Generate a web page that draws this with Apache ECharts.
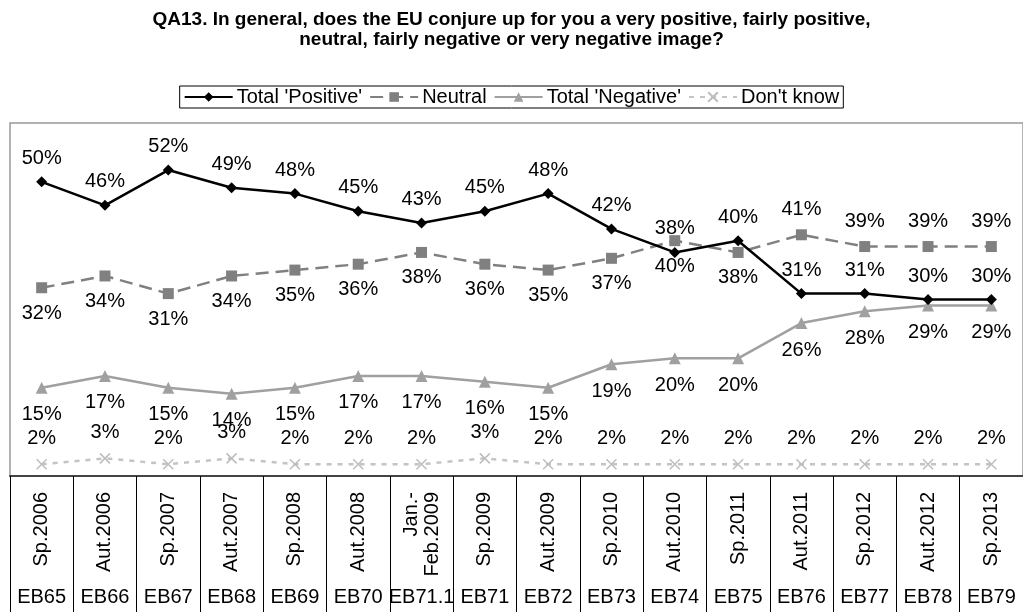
<!DOCTYPE html>
<html>
<head>
<meta charset="utf-8">
<script src="https://cdn.jsdelivr.net/npm/echarts@6/dist/echarts.min.js"></script>
<style>
html,body{margin:0;padding:0;background:#fff;}
#chart{width:1023px;height:612px;}
</style>
</head>
<body>
<div id="chart"></div>
<script>
const titleText = "QA13. In general, does the EU conjure up for you a very positive, fairly positive,\nneutral, fairly negative or very negative image?";
const periods = ["Sp.2006","Aut.2006","Sp.2007","Aut.2007","Sp.2008","Aut.2008","Jan.-\nFeb.2009","Sp.2009","Aut.2009","Sp.2010","Aut.2010","Sp.2011","Aut.2011","Sp.2012","Aut.2012","Sp.2013"];
const waves = ["EB65","EB66","EB67","EB68","EB69","EB70","EB71.1","EB71","EB72","EB73","EB74","EB75","EB76","EB77","EB78","EB79"];
const seriesNames = ["Total 'Positive'","Neutral","Total 'Negative'","Don't know"];
const positive = [50,46,52,49,48,45,43,45,48,42,38,40,31,31,30,30];
const neutral  = [32,34,31,34,35,36,38,36,35,37,40,38,41,39,39,39];
const negative = [15,17,15,14,15,17,17,16,15,19,20,20,26,28,29,29];
const dontKnow = [2,3,2,3,2,2,2,3,2,2,2,2,2,2,2,2];
// label side for Neutral series: points after index 11 carry labels above
const neutralLabelTop = [false,false,false,false,false,false,false,false,false,false,false,false,true,true,true,true];

const FONT = "Liberation Sans, Arial, sans-serif";
const chart = echarts.init(document.getElementById('chart'));

function pctLabel(p){ return p.value + '%'; }
const baseLabel = {show:true, formatter:pctLabel, color:'#000', fontSize:20, fontFamily:FONT};

const option = {
  animation:false,
  backgroundColor:'#fff',
  title:{
    text:titleText, left:'center', top:5,
    textStyle:{fontSize:19, fontWeight:'bold', color:'#000', fontFamily:FONT, lineHeight:20}
  },
  legend:{
    top:86, left:'center',
    data:seriesNames,
    borderColor:'#000', borderWidth:1, padding:[1,4],
    itemWidth:48, itemHeight:12, itemGap:7,
    textStyle:{fontSize:20, color:'#000', fontFamily:FONT, padding:[0,0,0,-1]}
  },
  grid:{left:10, right:-1, top:123, bottom:136, show:true, borderColor:'#999', borderWidth:1.5, backgroundColor:'transparent'},
  xAxis:[
    {
      type:'category', data:periods, position:'bottom', boundaryGap:true,
      axisLine:{show:true, lineStyle:{color:'#444', width:2}},
      axisTick:{show:true, interval:0, length:140, lineStyle:{color:'#000', width:1}},
      axisLabel:{interval:0, rotate:90, margin:16, fontSize:20, color:'#000', fontFamily:FONT, lineHeight:21}
    },
    {
      type:'category', data:waves, position:'bottom', offset:100, boundaryGap:true,
      axisLine:{show:false}, axisTick:{show:false},
      axisLabel:{interval:0, margin:11, fontSize:20, color:'#000', fontFamily:FONT}
    }
  ],
  yAxis:{type:'value', min:0, max:60, show:false, splitLine:{show:false}},
  series:[
    {
      name:seriesNames[0], type:'line', data:positive,
      symbol:'diamond', symbolSize:11,
      lineStyle:{color:'#000', width:2.5}, itemStyle:{color:'#000'},
      label:Object.assign({}, baseLabel, {position:'top', distance:8}),
      z:5
    },
    {
      name:seriesNames[1], type:'line',
      data:neutral.map((v,i)=>({value:v, label:{position: neutralLabelTop[i] ? 'top' : 'bottom'}})),
      symbol:'rect', symbolSize:11,
      lineStyle:{color:'#808080', width:2.5, type:[13,7]}, itemStyle:{color:'#808080'},
      label:Object.assign({}, baseLabel, {distance:10}),
      z:4
    },
    {
      name:seriesNames[2], type:'line', data:negative,
      symbol:'triangle', symbolSize:12,
      lineStyle:{color:'#a0a0a0', width:2.5}, itemStyle:{color:'#a0a0a0'},
      label:Object.assign({}, baseLabel, {position:'bottom', distance:11}),
      z:3
    },
    {
      name:seriesNames[3], type:'line', data:dontKnow,
      symbol:'path://M0,0L10,10M10,0L0,10', symbolSize:10,
      lineStyle:{color:'#c4c4c4', width:2.5, type:[5,6]},
      itemStyle:{color:'none', borderColor:'#bdbdbd', borderWidth:1.5},
      label:Object.assign({}, baseLabel, {position:'top', distance:8}),
      z:2
    }
  ]
};
chart.setOption(option);
</script>
</body>
</html>
